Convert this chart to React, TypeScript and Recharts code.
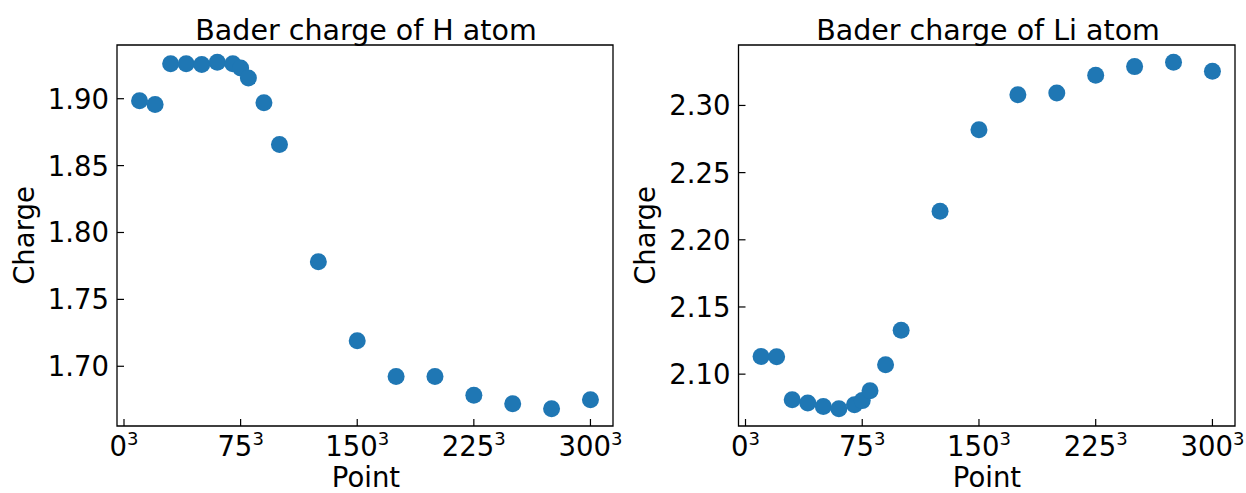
import React from 'react';
import { ScatterChart, Scatter, XAxis, YAxis, ReferenceArea } from 'recharts';

const points = [10, 20, 30, 40, 50, 60, 70, 75, 80, 90, 100, 125, 150, 175, 200, 225, 250, 275, 300];
const hCharge = [1.8985, 1.8957, 1.9262, 1.9262, 1.9255, 1.9272, 1.9262, 1.9229, 1.9154, 1.897, 1.8657, 1.7782, 1.719, 1.6923, 1.6923, 1.6783, 1.672, 1.6683, 1.675];
const liCharge = [2.1131, 2.1129, 2.081, 2.0785, 2.076, 2.0743, 2.0773, 2.0803, 2.0877, 2.107, 2.1326, 2.2213, 2.2819, 2.308, 2.3093, 2.3224, 2.3289, 2.3321, 2.3254];
const xTicks = [0, 75, 150, 225, 300];
const hTicks = [1.7, 1.75, 1.8, 1.85, 1.9];
const liTicks = [2.1, 2.15, 2.2, 2.25, 2.3];

const FONT = '"DejaVu Sans", sans-serif';
const BLUE = '#1f77b4';

// matplotlib-like 5% padding around the data
function pad(vals: number[]): [number, number] {
  const lo = Math.min(...vals);
  const hi = Math.max(...vals);
  const m = (hi - lo) * 0.05;
  return [lo - m, hi + m];
}

function XTick({ x, y, payload }: any) {
  return (
    <g>
      <line x1={x} x2={x} y1={y - 8} y2={y - 15} stroke="#000" strokeWidth={1.2} />
      <text x={x} y={y + 22} textAnchor="middle" fontFamily={FONT} fontSize={27.5} fill="#000">
        <tspan>{payload.value}</tspan>
        <tspan dy={-11} fontSize={18}>3</tspan>
      </text>
    </g>
  );
}

function YTick({ x, y, payload }: any) {
  return (
    <g>
      <line x1={x + 8} x2={x + 15} y1={y} y2={y} stroke="#000" strokeWidth={1.2} />
      <text x={x} y={y + 10} textAnchor="end" fontFamily={FONT} fontSize={27.5} fill="#000">
        {Number(payload.value).toFixed(2)}
      </text>
    </g>
  );
}

function Dot({ cx, cy }: any) {
  return <circle cx={cx} cy={cy} r={8.5} fill={BLUE} />;
}

function Panel({ values, ticks, width, left, right }: any) {
  const data = points.map((p, i) => ({ x: p, y: values[i] }));
  const xd = pad(points);
  const yd = pad(values);
  return (
    <ScatterChart width={width} height={493} margin={{ top: 45, right, bottom: 7, left }}>
      <XAxis
        type="number"
        dataKey="x"
        domain={xd}
        ticks={xTicks}
        height={60}
        axisLine={false}
        tickLine={false}
        tickSize={0}
        tickMargin={8}
        tick={<XTick />}
      />
      <YAxis
        type="number"
        dataKey="y"
        domain={yd}
        ticks={ticks}
        width={100}
        axisLine={false}
        tickLine={false}
        tickSize={0}
        tickMargin={8}
        tick={<YTick />}
      />
      <ReferenceArea x1={xd[0]} x2={xd[1]} y1={yd[0]} y2={yd[1]} fill="none" stroke="#000" strokeWidth={1.3} />
      <Scatter data={data} shape={<Dot />} isAnimationActive={false} />
    </ScatterChart>
  );
}

const txt = { fontFamily: FONT, fontSize: 27.5, fill: '#000' };

export default function App() {
  return (
    <div style={{ position: 'absolute', left: 0, top: 0, width: 1246, height: 493, background: '#fff' }}>
      <div style={{ position: 'absolute', left: 0, top: 0 }}>
        <Panel values={hCharge} ticks={hTicks} width={640} left={17} right={27} />
      </div>
      <div style={{ position: 'absolute', left: 620, top: 0 }}>
        <Panel values={liCharge} ticks={liTicks} width={626} left={18.5} right={11} />
      </div>
      <svg width={1246} height={493} style={{ position: 'absolute', left: 0, top: 0, pointerEvents: 'none' }}>
        <text x={366} y={40} textAnchor="middle" {...txt} fontSize={28.5}>Bader charge of H atom</text>
        <text x={988} y={40} textAnchor="middle" {...txt} fontSize={28.5}>Bader charge of Li atom</text>
        <text x={366} y={487} textAnchor="middle" {...txt}>Point</text>
        <text x={987} y={487} textAnchor="middle" {...txt}>Point</text>
        <text transform="translate(34,235.5) rotate(-90)" textAnchor="middle" {...txt}>Charge</text>
        <text transform="translate(655,235.5) rotate(-90)" textAnchor="middle" {...txt}>Charge</text>
      </svg>
    </div>
  );
}
